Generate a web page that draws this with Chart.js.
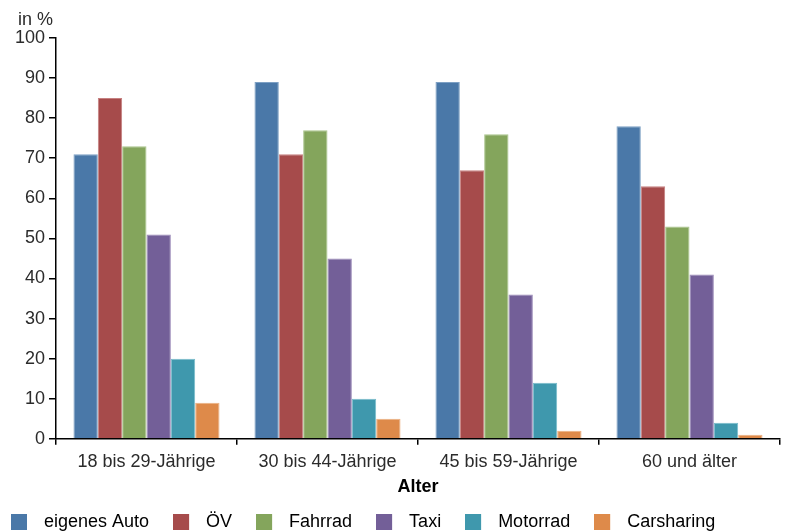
<!DOCTYPE html>
<html>
<head>
<meta charset="utf-8">
<script src="https://cdn.jsdelivr.net/npm/chart.js@4.4.1/dist/chart.umd.min.js"></script>
<style>
  html, body { margin: 0; padding: 0; background: #ffffff; }
  #wrap { width: 789px; height: 532px; }
</style>
</head>
<body>
<div id="wrap"><canvas id="chart" width="789" height="532"></canvas></div>
<script>
// Altersgruppen und Verkehrsmittel
const categories = ['18 bis 29-Jährige', '30 bis 44-Jährige', '45 bis 59-Jährige', '60 und älter'];
const seriesNames = ['eigenes Auto', 'ÖV', 'Fahrrad', 'Taxi', 'Motorrad', 'Carsharing'];

// Anteile in %
const eigenesAuto = [71, 89, 89, 78];
const oev = [85, 71, 67, 63];
const fahrrad = [73, 77, 76, 53];
const taxi = [51, 45, 36, 41];
const motorrad = [20, 10, 14, 4];
const carsharing = [9, 5, 2, 1];

const yTicks = [0, 10, 20, 30, 40, 50, 60, 70, 80, 90, 100];
const seriesValues = [eigenesAuto, oev, fahrrad, taxi, motorrad, carsharing];

const colors = ['#4a78a8', '#a64b4b', '#84a55c', '#735f98', '#3f98ad', '#de8a4a'];
const edgeColors = ['#7da0c4', '#c68080', '#a9c48a', '#9a89b8', '#78bccb', '#ecb082'];

const FONT = 'Liberation Sans, Arial, Helvetica, sans-serif';
const FS = 18;
const TEXT = '#2b2b2b';

// Legend swatch: square on the left, blank space to its right as gap before the label
function swatch(color) {
  const c = document.createElement('canvas');
  c.width = 24; c.height = 16;
  const g = c.getContext('2d');
  g.fillStyle = color;
  g.fillRect(0, 0, 16, 16);
  return c;
}

// Unit label above the value axis
const unitLabel = {
  id: 'unitLabel',
  afterDraw(chart) {
    const { ctx, chartArea } = chart;
    ctx.save();
    ctx.font = FS + 'px ' + FONT;
    ctx.fillStyle = TEXT;
    ctx.textAlign = 'right';
    ctx.textBaseline = 'middle';
    ctx.fillText('in %', chartArea.left - 3, 20);
    ctx.restore();
  }
};

new Chart(document.getElementById('chart'), {
  type: 'bar',
  data: {
    labels: categories,
    datasets: seriesNames.map((name, i) => ({
      label: name,
      data: seriesValues[i],
      backgroundColor: colors[i],
      borderColor: edgeColors[i],
      borderWidth: 1,
      borderSkipped: 'start',
      categoryPercentage: 0.807,
      barPercentage: 1.0
    }))
  },
  options: {
    responsive: false,
    devicePixelRatio: 1,
    animation: false,
    layout: { padding: { left: -13, right: 9, top: 38, bottom: -9 } },
    plugins: {
      legend: {
        position: 'bottom',
        align: 'start',
        labels: {
          font: { size: FS, family: FONT },
          color: TEXT,
          usePointStyle: true,
          pointStyleWidth: 24,
          boxHeight: 16,
          padding: 24,
          generateLabels(chart) {
            return chart.data.datasets.map((ds, i) => ({
              text: ds.label,
              fillStyle: colors[i],
              strokeStyle: colors[i],
              lineWidth: 0,
              pointStyle: swatch(colors[i]),
              hidden: false,
              datasetIndex: i
            }));
          }
        }
      },
      tooltip: { enabled: false },
      title: { display: false }
    },
    scales: {
      x: {
        offset: true,
        grid: { offset: true, drawOnChartArea: false, drawTicks: true, tickLength: 6, color: '#000', lineWidth: 1.5 },
        border: { display: true, color: '#000', width: 1.5 },
        ticks: { font: { size: FS, family: FONT }, color: TEXT, padding: 6, maxRotation: 0 },
        title: { display: true, text: 'Alter', font: { size: FS, weight: 'bold', family: FONT }, color: '#000', padding: { top: -2, bottom: -9 } }
      },
      y: {
        min: 0,
        max: 100,
        afterBuildTicks(scale) { scale.ticks = yTicks.map(v => ({ value: v })); },
        afterFit(scale) { scale.width = 69; },
        grid: { drawOnChartArea: false, drawTicks: true, tickLength: 7, color: '#000', lineWidth: 1.5 },
        border: { display: true, color: '#000', width: 1.5 },
        ticks: { font: { size: FS, family: FONT }, color: TEXT, padding: 4 }
      }
    }
  },
  plugins: [unitLabel]
});
</script>
</body>
</html>
